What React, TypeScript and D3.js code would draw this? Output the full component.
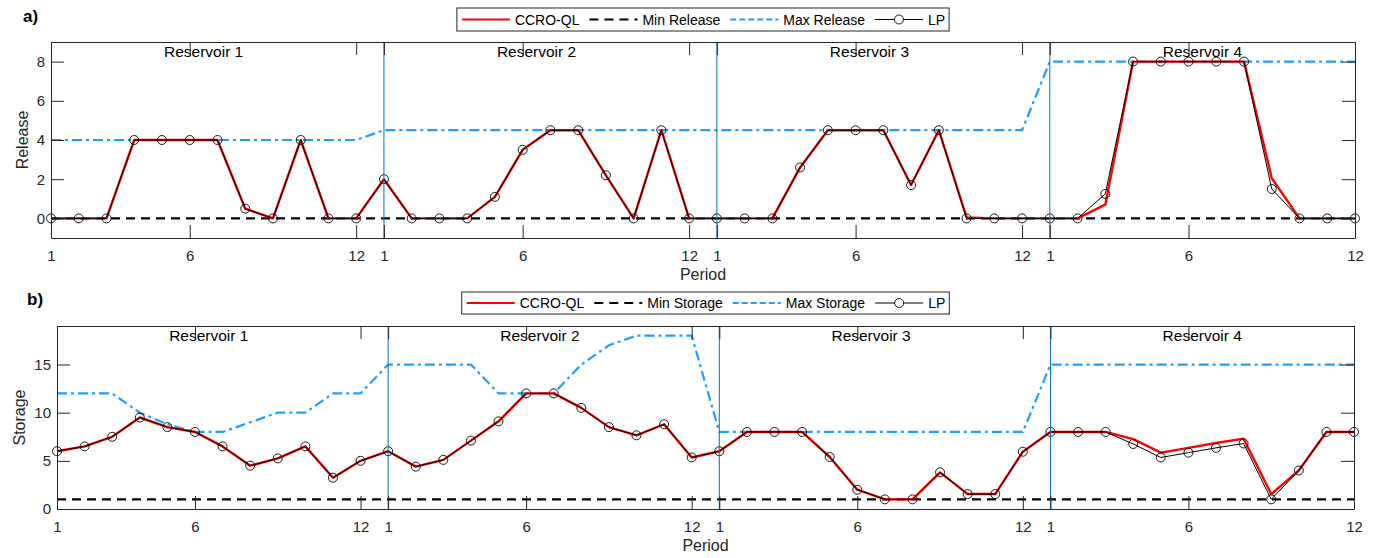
import React, { useEffect, useRef } from 'react';
import * as d3 from 'd3';

// x positions: 4 reservoirs x 12 periods, indices 0..47
const tickIndex = [0, 5, 11, 12, 17, 23, 24, 29, 35, 36, 41, 47];
const tickLabels = ['1', '6', '12', '1', '6', '12', '1', '6', '12', '1', '6', '12'];
const reservoirStarts = [12, 24, 36];
const reservoirNames = ['Reservoir 1', 'Reservoir 2', 'Reservoir 3', 'Reservoir 4'];

// a) release
const releaseCCRO = [
  0, 0, 0, 4, 4, 4, 4, 0.5, 0, 4, 0, 0,
  2, 0, 0, 0, 1.1, 3.5, 4.5, 4.5, 2.2, 0, 4.5, 0,
  0, 0, 0, 2.6, 4.5, 4.5, 4.5, 1.7, 4.5, 0.05, 0, 0,
  0, 0, 0.7, 8, 8, 8, 8, 8, 2.05, 0, 0, 0,
];
const releaseLP = [
  0, 0, 0, 4, 4, 4, 4, 0.5, 0, 4, 0, 0,
  2, 0, 0, 0, 1.1, 3.5, 4.5, 4.5, 2.2, 0, 4.5, 0,
  0, 0, 0, 2.6, 4.5, 4.5, 4.5, 1.7, 4.5, 0, 0, 0,
  0, 0, 1.25, 8, 8, 8, 8, 8, 1.5, 0, 0, 0,
];
const releaseMin = [
  0, 0, 0, 0, 0, 0, 0, 0, 0, 0, 0, 0,
  0, 0, 0, 0, 0, 0, 0, 0, 0, 0, 0, 0,
  0, 0, 0, 0, 0, 0, 0, 0, 0, 0, 0, 0,
  0, 0, 0, 0, 0, 0, 0, 0, 0, 0, 0, 0,
];
const releaseMax = [
  4, 4, 4, 4, 4, 4, 4, 4, 4, 4, 4, 4,
  4.5, 4.5, 4.5, 4.5, 4.5, 4.5, 4.5, 4.5, 4.5, 4.5, 4.5, 4.5,
  4.5, 4.5, 4.5, 4.5, 4.5, 4.5, 4.5, 4.5, 4.5, 4.5, 4.5, 4.5,
  8, 8, 8, 8, 8, 8, 8, 8, 8, 8, 8, 8,
];

// b) storage
const storageCCRO = [
  6, 6.5, 7.5, 9.5, 8.5, 8, 6.5, 4.5, 5.25, 6.5, 3.25, 5,
  6, 4.4, 5.1, 7.1, 9.1, 12, 12, 10.5, 8.5, 7.65, 8.8, 5.35,
  6, 8, 8, 8, 5.4, 2, 1, 1, 3.8, 1.55, 1.55, 5.95,
  8, 8, 8, 7.25, 5.85, 6.35, 6.85, 7.3, 1.55, 4, 8, 8,
];
const storageLP = [
  6, 6.5, 7.5, 9.5, 8.5, 8, 6.5, 4.5, 5.25, 6.5, 3.25, 5,
  6, 4.4, 5.1, 7.1, 9.1, 12, 12, 10.5, 8.5, 7.65, 8.8, 5.35,
  6, 8, 8, 8, 5.4, 2, 1, 1, 3.8, 1.55, 1.55, 5.95,
  8, 8, 8, 6.75, 5.35, 5.85, 6.35, 6.8, 1, 4, 8, 8,
];
const storageMin = [
  1, 1, 1, 1, 1, 1, 1, 1, 1, 1, 1, 1,
  1, 1, 1, 1, 1, 1, 1, 1, 1, 1, 1, 1,
  1, 1, 1, 1, 1, 1, 1, 1, 1, 1, 1, 1,
  1, 1, 1, 1, 1, 1, 1, 1, 1, 1, 1, 1,
];
const storageMax = [
  12, 12, 12, 10, 8.8, 8, 8, 9, 10, 10, 12, 12,
  15, 15, 15, 15, 12, 12, 12, 15, 17, 18, 18, 18,
  8, 8, 8, 8, 8, 8, 8, 8, 8, 8, 8, 8,
  15, 15, 15, 15, 15, 15, 15, 15, 15, 15, 15, 15,
];

const FONT = '"Liberation Sans", Arial, Helvetica, sans-serif';
const AXIS = '#262626';
const RED = '#FF0000';
const SKY = '#1E9FFF';
const DIVIDER = '#0072BD';

interface Panel {
  tag: string;
  left: number; right: number; top: number; bottom: number;
  yDomain: [number, number];
  yTicks: number[];
  yLabel: string;
  yLabelX: number;
  legendY: number;
  legendH: number;
  names: string[];
  ccro: number[]; lp: number[]; min: number[]; max: number[];
}

function drawPanel(svg: d3.Selection<SVGSVGElement, unknown, null, undefined>, p: Panel) {
  const g = svg.append('g');
  const x = d3.scaleLinear().domain([0, 47]).range([p.left, p.right]);
  const y = d3.scaleLinear().domain(p.yDomain).range([p.bottom, p.top]);
  const line = d3.line<number>().x((_, i) => x(i)).y((d) => y(d));

  // bounds
  g.append('path').datum(p.max).attr('d', line).attr('fill', 'none')
    .attr('stroke', SKY).attr('stroke-width', 2.2).attr('stroke-dasharray', '10,4,3,4');
  g.append('path').datum(p.min).attr('d', line).attr('fill', 'none')
    .attr('stroke', '#000').attr('stroke-width', 2.2).attr('stroke-dasharray', '9,6');

  // solutions
  g.append('path').datum(p.ccro).attr('d', line).attr('fill', 'none')
    .attr('stroke', RED).attr('stroke-width', 2.4).attr('stroke-linejoin', 'round');
  g.append('path').datum(p.lp).attr('d', line).attr('fill', 'none')
    .attr('stroke', '#000').attr('stroke-width', 1);
  g.selectAll('circle.lp').data(p.lp).enter().append('circle')
    .attr('class', 'lp')
    .attr('cx', (_, i) => x(i)).attr('cy', (d) => y(d)).attr('r', 4.5)
    .attr('fill', 'none').attr('stroke', '#000').attr('stroke-width', 0.9);

  // reservoir dividers
  g.selectAll('line.div').data(reservoirStarts).enter().append('line')
    .attr('class', 'div')
    .attr('x1', (d) => x(d)).attr('x2', (d) => x(d))
    .attr('y1', p.top).attr('y2', p.bottom)
    .attr('stroke', DIVIDER).attr('stroke-width', 1);

  g.selectAll('text.res').data(reservoirNames).enter().append('text')
    .attr('class', 'res')
    .attr('x', (_, i) => x(5.5 + 12 * i)).attr('y', p.top + 15)
    .attr('text-anchor', 'middle').attr('font-family', FONT).attr('font-size', 15.5)
    .attr('fill', '#000').text((d) => d);

  // axes (box with inward ticks)
  const fmt = (_: unknown, i: number) => tickLabels[i];
  const styleAxis = (a: d3.Selection<SVGGElement, unknown, null, undefined>) => {
    a.attr('font-family', FONT).attr('font-size', 15);
    a.selectAll('path, line').attr('stroke', AXIS);
    a.selectAll('text').attr('fill', AXIS);
  };
  styleAxis(g.append('g').attr('transform', `translate(0,${p.bottom})`)
    .call(d3.axisBottom(x).tickValues(tickIndex).tickFormat(fmt as any).tickSizeInner(-13).tickSizeOuter(0).tickPadding(12)));
  styleAxis(g.append('g').attr('transform', `translate(0,${p.top})`)
    .call(d3.axisTop(x).tickValues(tickIndex).tickFormat(() => '').tickSizeInner(-13).tickSizeOuter(0)));
  styleAxis(g.append('g').attr('transform', `translate(${p.left},0)`)
    .call(d3.axisLeft(y).tickValues(p.yTicks).tickSizeInner(-13).tickSizeOuter(0).tickPadding(6)));
  styleAxis(g.append('g').attr('transform', `translate(${p.right},0)`)
    .call(d3.axisRight(y).tickValues(p.yTicks).tickFormat(() => '').tickSizeInner(-13).tickSizeOuter(0)));

  // axis titles
  g.append('text').attr('x', (p.left + p.right) / 2).attr('y', p.bottom + 42)
    .attr('text-anchor', 'middle').attr('font-family', FONT).attr('font-size', 16)
    .attr('fill', AXIS).text('Period');
  g.append('text').attr('transform', `translate(${p.yLabelX},${(p.top + p.bottom) / 2}) rotate(-90)`)
    .attr('text-anchor', 'middle').attr('font-family', FONT).attr('font-size', 16)
    .attr('fill', AXIS).text(p.yLabel);

  g.append('text').attr('x', p.tag === 'a)' ? 23 : 27).attr('y', p.legendY + (p.tag === 'a)' ? 14 : 13))
    .attr('font-family', FONT).attr('font-size', 17).attr('font-weight', 'bold')
    .attr('fill', '#000').text(p.tag);

  // legend
  const lg = g.append('g');
  const box = lg.append('rect').attr('y', p.legendY).attr('height', p.legendH)
    .attr('fill', '#fff').attr('stroke', AXIS).attr('stroke-width', 1);
  const styles = [
    { color: RED, w: 2.2, dash: null, marker: false },
    { color: '#000', w: 2.2, dash: '9,6', marker: false },
    { color: SKY, w: 2.2, dash: '6,3', marker: false },
    { color: '#000', w: 1, dash: null, marker: true },
  ];
  const cy = p.legendY + p.legendH / 2;
  const gap = 10;
  let cursor = 5;
  const items: { x0: number; tw: number }[] = [];
  p.names.forEach((name) => {
    const t = lg.append('text').attr('y', cy + 5).attr('font-family', FONT).attr('font-size', 14)
      .attr('fill', '#000').text(name);
    const tw = (t.node() as SVGTextElement).getComputedTextLength();
    items.push({ x0: cursor, tw });
    cursor += 48 + 5 + tw + gap;
  });
  const total = cursor - gap + 4;
  const bx = (p.left + p.right) / 2 - total / 2;
  box.attr('x', bx).attr('width', total);
  lg.selectAll('text').each(function (_, i) {
    d3.select(this).attr('x', bx + items[i].x0 + 53);
  });
  items.forEach((it, i) => {
    const s = styles[i];
    const l = lg.append('line').attr('x1', bx + it.x0).attr('x2', bx + it.x0 + 48)
      .attr('y1', cy).attr('y2', cy).attr('stroke', s.color).attr('stroke-width', s.w);
    if (s.dash) l.attr('stroke-dasharray', s.dash);
    if (s.marker) {
      lg.append('circle').attr('cx', bx + it.x0 + 24).attr('cy', cy).attr('r', 4.5)
        .attr('fill', '#fff').attr('stroke', '#000').attr('stroke-width', 0.9);
    }
  });
}

const App: React.FC = () => {
  const ref = useRef<SVGSVGElement | null>(null);

  useEffect(() => {
    const svg = d3.select(ref.current!);
    svg.selectAll('*').remove();

    drawPanel(svg, {
      tag: 'a)', left: 51, right: 1355, top: 42, bottom: 238,
      yDomain: [-1, 9], yTicks: [0, 2, 4, 6, 8], yLabel: 'Release', yLabelX: 28,
      legendY: 8, legendH: 23,
      names: ['CCRO-QL', 'Min Release', 'Max Release', 'LP'],
      ccro: releaseCCRO, lp: releaseLP, min: releaseMin, max: releaseMax,
    });
    drawPanel(svg, {
      tag: 'b)', left: 57, right: 1354, top: 326, bottom: 509,
      yDomain: [0, 19], yTicks: [0, 5, 10, 15], yLabel: 'Storage', yLabelX: 25,
      legendY: 292, legendH: 22,
      names: ['CCRO-QL', 'Min Storage', 'Max Storage', 'LP'],
      ccro: storageCCRO, lp: storageLP, min: storageMin, max: storageMax,
    });
  }, []);

  return (
    <svg
      ref={ref}
      width={1376}
      height={558}
      style={{ position: 'absolute', left: 0, top: 0, background: '#fff' }}
    />
  );
};

export default App;
